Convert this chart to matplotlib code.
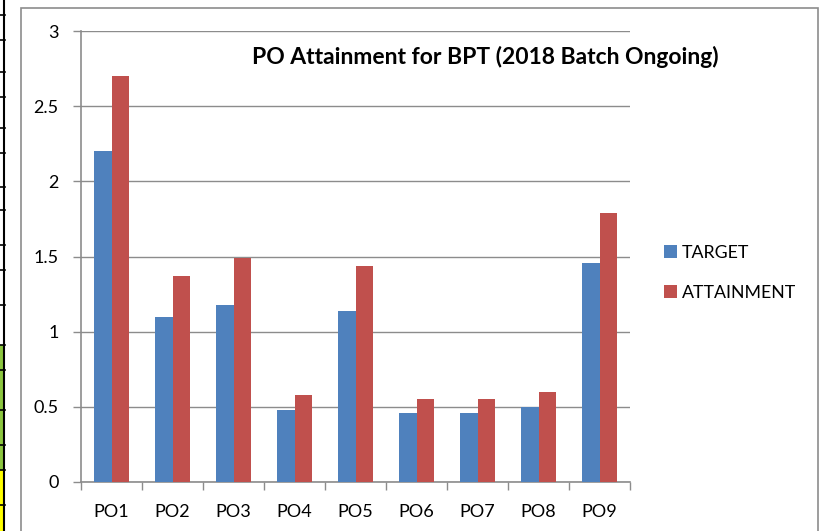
import matplotlib

matplotlib.use('agg')
import matplotlib.pyplot as plt
from matplotlib.patches import Rectangle
import numpy as np

categories = ['PO1', 'PO2', 'PO3', 'PO4', 'PO5', 'PO6', 'PO7', 'PO8', 'PO9']
target = [2.20, 1.10, 1.18, 0.48, 1.14, 0.46, 0.46, 0.50, 1.46]
attainment = [2.70, 1.37, 1.49, 0.58, 1.44, 0.55, 0.55, 0.60, 1.79]
y_ticks = [0, 0.5, 1, 1.5, 2, 2.5, 3]
y_tick_labels = ['0', '0.5', '1', '1.5', '2', '2.5', '3']

# spreadsheet rows peeking out on the left of the screenshot (pixel rows)
sheet_rows = [15, 40, 72, 97, 128, 153, 187, 210, 245, 270, 305, 345, 370, 410, 445, 470, 505]

plt.rcParams['font.family'] = ['Lato', 'DejaVu Sans']

W, H = 833, 531
fig = plt.figure(figsize=(W / 100, H / 100), dpi=100)

# left strip of spreadsheet cells
fig.patches.append(Rectangle((0, 0), 5 / W, (531 - 470) / H, transform=fig.transFigure,
                             facecolor='#ffff00', edgecolor='none', zorder=-2))
fig.patches.append(Rectangle((0, (531 - 470) / H), 5 / W, (470 - 345) / H, transform=fig.transFigure,
                             facecolor='#8cc63f', edgecolor='none', zorder=-2))
fig.lines.append(plt.Line2D([4 / W, 4 / W], [0, 1], transform=fig.transFigure, color='black', lw=1.5))
for r in sheet_rows:
    fig.lines.append(plt.Line2D([0, 5 / W], [1 - r / H, 1 - r / H], transform=fig.transFigure,
                                color='black', lw=1.2))

# chart frame (behind the axes)
fig.patches.append(Rectangle((21 / W, -0.01), (818 - 21) / W, 1 - 8 / H + 0.01, transform=fig.transFigure,
                             facecolor='white', edgecolor='#8c8c8c', lw=1.2, zorder=-1))

ax = fig.add_axes([81 / W, 1 - 482 / H, (630 - 81) / W, (482 - 31) / H])
ax.set_facecolor('none')

x = np.arange(len(categories))
w = 0.28
ax.bar(x - w / 2, target, w, color='#4F81BD', label='TARGET', zorder=3)
ax.bar(x + w / 2, attainment, w, color='#C0504D', label='ATTAINMENT', zorder=3)

ax.set_xlim(-0.5, len(categories) - 0.5)
ax.set_ylim(0, 3)
ax.set_yticks(y_ticks)
ax.set_yticklabels(y_tick_labels, fontsize=13)
ax.set_xticks(x)
ax.set_xticklabels(categories, fontsize=13)
ax.set_xticks(np.arange(len(categories) + 1) - 0.5, minor=True)
ax.tick_params(axis='x', which='major', length=0, pad=16)
ax.tick_params(axis='x', which='minor', length=6, color='#8c8c8c', width=1)
ax.tick_params(axis='y', length=6, color='#8c8c8c', width=1, pad=10)

ax.grid(axis='y', color='#8c8c8c', lw=1, zorder=0)
for s in ['top', 'right']:
    ax.spines[s].set_visible(False)
for s in ['left', 'bottom']:
    ax.spines[s].set_color('#8c8c8c')
    ax.spines[s].set_linewidth(1.2)

fig.text(485 / W, 1 - 57 / H, 'PO Attainment for BPT (2018 Batch Ongoing)', ha='center', va='center',
         fontsize=16.5, fontweight='bold')

fig.legend(loc='upper left', bbox_to_anchor=(655 / W, 1 - 236 / H), frameon=False, fontsize=12.8,
           handlelength=0.75, handleheight=0.75, handletextpad=0.25, labelspacing=1.35, borderpad=0)

fig.savefig('out.png', dpi=100)
